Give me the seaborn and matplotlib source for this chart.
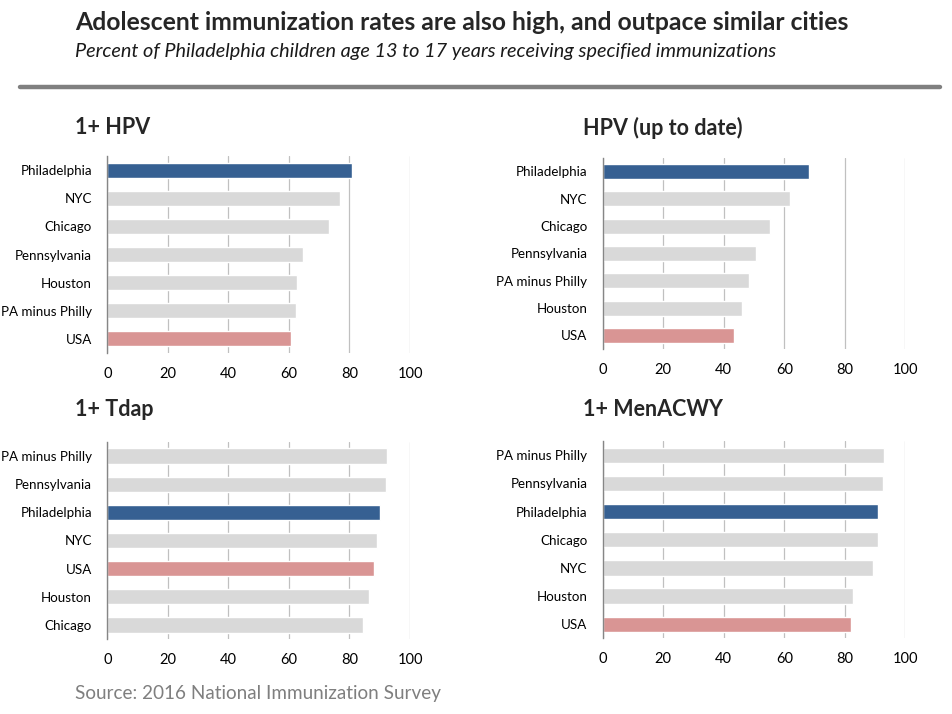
import seaborn as sns
import matplotlib.pyplot as plt
import pandas as pd

# values (percent)
hpv1_places = ['Philadelphia', 'NYC', 'Chicago', 'Pennsylvania', 'Houston', 'PA minus Philly', 'USA']
hpv1_values = [80.7, 76.8, 73.2, 64.5, 62.6, 62.2, 60.6]

hpv_utd_places = ['Philadelphia', 'NYC', 'Chicago', 'Pennsylvania', 'PA minus Philly', 'Houston', 'USA']
hpv_utd_values = [68.3, 61.8, 55.4, 50.8, 48.5, 46.2, 43.3]

tdap_places = ['PA minus Philly', 'Pennsylvania', 'Philadelphia', 'NYC', 'USA', 'Houston', 'Chicago']
tdap_values = [92.3, 92.2, 90.0, 89.0, 88.0, 86.3, 84.4]

men_places = ['PA minus Philly', 'Pennsylvania', 'Philadelphia', 'Chicago', 'NYC', 'Houston', 'USA']
men_values = [92.8, 92.7, 91.1, 91.0, 89.4, 82.8, 82.2]

panel_titles = ['1+ HPV', 'HPV (up to date)', '1+ Tdap', '1+ MenACWY']
x_ticks = [0, 20, 40, 60, 80, 100]

BLUE = '#366092'
PINK = '#D99594'
GREY = '#D9D9D9'


def bar_colour(place):
    if place == 'Philadelphia':
        return BLUE
    if place == 'USA':
        return PINK
    return GREY


def draw_panel(ax, places, values):
    """Horizontal bar panel in the Excel look of the original."""
    df = pd.DataFrame({'place': places, 'pct': values})
    pal = {p: bar_colour(p) for p in places}
    sns.barplot(data=df, x='pct', y='place', hue='place', palette=pal,
                order=places, width=0.54, legend=False, ax=ax, saturation=1)
    ax.set_xlim(0, 100)
    ax.set_xticks(x_ticks)
    ax.set_xlabel('')
    ax.set_ylabel('')
    ax.grid(axis='x', color='#C0C0C0', linewidth=0.9)
    ax.grid(axis='y', visible=False)
    ax.set_axisbelow(True)
    for s in ['top', 'right', 'bottom']:
        ax.spines[s].set_visible(False)
    ax.spines['left'].set_color('#868686')
    ax.spines['left'].set_linewidth(1)
    ax.tick_params(axis='both', length=0, colors='#000000')
    ax.tick_params(axis='y', pad=11, labelsize=9.6)
    ax.tick_params(axis='x', pad=10, labelsize=10.5)
    ax.set_facecolor('white')


sns.set_theme(style='white')
plt.rcParams['font.family'] = ['Lato', 'DejaVu Sans']

fig = plt.figure(figsize=(9.52, 7.14), dpi=100)

positions = [
    [0.1127, 0.506, 0.318, 0.275],
    [0.633, 0.511, 0.318, 0.268],
    [0.1127, 0.105, 0.318, 0.276],
    [0.633, 0.106, 0.318, 0.276],
]
data = [
    (hpv1_places, hpv1_values),
    (hpv_utd_places, hpv_utd_values),
    (tdap_places, tdap_values),
    (men_places, men_values),
]
title_xy = [(75, 128), (583, 128), (75, 410), (583, 410)]

for pos, (places, vals), title, (tx, ty) in zip(positions, data, panel_titles, title_xy):
    ax = fig.add_axes(pos)
    draw_panel(ax, places, vals)
    fig.text(tx / 952, 1 - ty / 714, title, fontsize=15.5, fontweight='bold',
             ha='left', va='center')

fig.text(75 / 952, 1 - 23 / 714,
         'Adolescent immunization rates are also high, and outpace similar cities',
         fontsize=17.8, fontweight='bold', ha='left', va='center')
fig.text(75 / 952, 1 - 52 / 714,
         'Percent of Philadelphia children age 13 to 17 years receiving specified immunizations',
         fontsize=14.3, style='italic', ha='left', va='center', color='#1a1a1a')
fig.add_artist(plt.Line2D([20 / 952, 940 / 952], [1 - 87 / 714, 1 - 87 / 714],
                          color='#808080', linewidth=3.2))
fig.text(75 / 952, 1 - 693 / 714, 'Source: 2016 National Immunization Survey',
         fontsize=13.6, color='#7F7F7F', ha='left', va='center')

plt.savefig('out.png', dpi=100)
